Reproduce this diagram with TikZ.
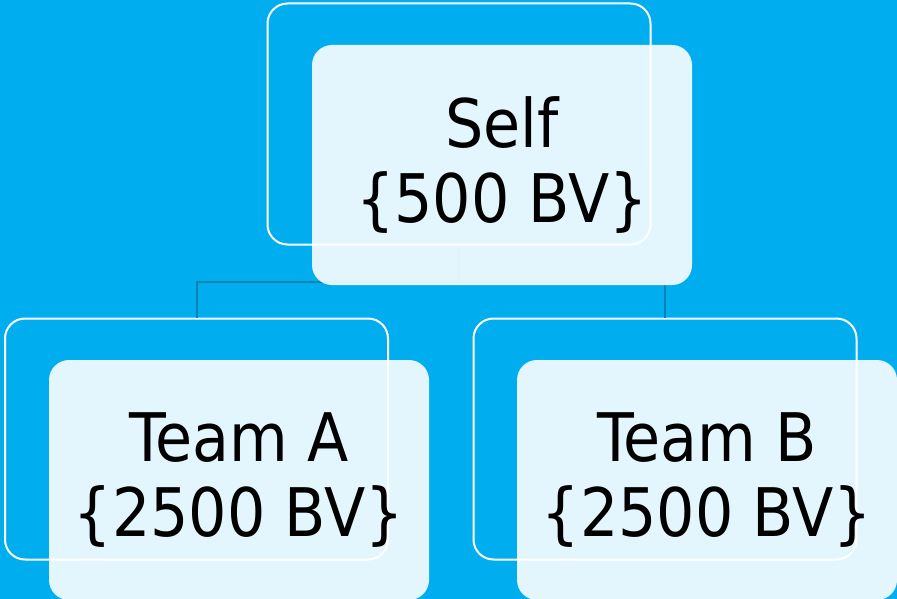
\documentclass[tikz,border=0pt]{standalone}
\usepackage{fontspec}
\setmainfont{DejaVu Sans}[FakeStretch=0.9]
\usepackage{xcolor}
\usepackage{tikz}
\usetikzlibrary{positioning,calc}

\definecolor{bgcyan}{RGB}{0,174,239}
\definecolor{linkblue}{RGB}{10,130,180}

\begin{document}
\begin{tikzpicture}[
    x=1pt, y=-1pt,
    back/.style={draw=white, line width=2pt, rounded corners=20pt,
        minimum width=383pt, minimum height=241pt},
    front/.style={fill=white, fill opacity=0.89, text opacity=1, rounded corners=20pt,
        minimum width=380pt, minimum height=240pt, align=center,
        font=\fontsize{67}{75}\selectfont},
    link/.style={draw=linkblue, line width=2pt}
]
    % Background
    \fill[bgcyan] (0,0) rectangle (897,599);
    \useasboundingbox (0,0) rectangle (897,599);

    % Outline boxes
    \node[back] (selfback) at (459, 124) {};
    \node[back] (teamAback) at (196.5, 439) {};
    \node[back] (teamBback) at (665, 439) {};

    % Connectors
    \draw[link] (selfback.south) -- ++(0,36) coordinate (split) -| (teamAback.north);
    \draw[link] (split) -| (teamBback.north);

    % Filled boxes with labels
    \node[front] (self) at (502, 165) {Self\\\{500 BV\}};
    \node[front] (teamA) at (239, 480) {Team A\\\{2500 BV\}};
    \node[front] (teamB) at (707, 480) {Team B\\\{2500 BV\}};
\end{tikzpicture}
\end{document}
